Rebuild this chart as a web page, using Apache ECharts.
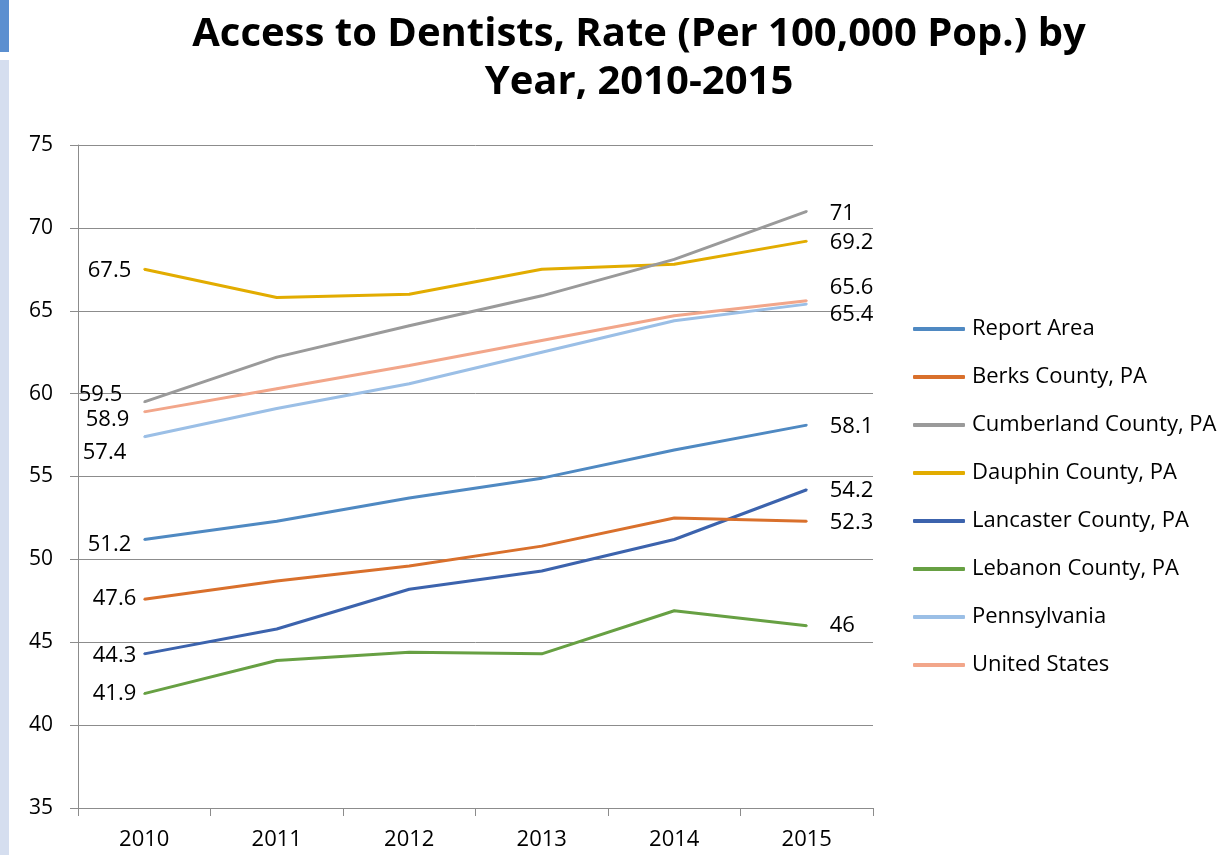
<!DOCTYPE html>
<html>
<head>
<meta charset="utf-8">
<script src="https://cdn.jsdelivr.net/npm/echarts@6/dist/echarts.min.js"></script>
<style>html,body{margin:0;padding:0;background:#fff}#c{width:1229px;height:855px}</style>
</head>
<body>
<div id="c"></div>
<script>
const years = ['2010','2011','2012','2013','2014','2015'];
const seriesNames = ['Report Area','Berks County, PA','Cumberland County, PA','Dauphin County, PA','Lancaster County, PA','Lebanon County, PA','Pennsylvania','United States'];
const reportArea = [51.2, 52.3, 53.7, 54.9, 56.6, 58.1];
const berks = [47.6, 48.7, 49.6, 50.8, 52.5, 52.3];
const cumberland = [59.5, 62.2, 64.1, 65.9, 68.1, 71];
const dauphin = [67.5, 65.8, 66.0, 67.5, 67.8, 69.2];
const lancaster = [44.3, 45.8, 48.2, 49.3, 51.2, 54.2];
const lebanon = [41.9, 43.9, 44.4, 44.3, 46.9, 46];
const pennsylvania = [57.4, 59.1, 60.6, 62.5, 64.4, 65.4];
const unitedStates = [58.9, 60.3, 61.7, 63.2, 64.7, 65.6];
const yTicks = [35, 40, 45, 50, 55, 60, 65, 70, 75];

const colors = ['#4F89C2','#D9702C','#9A9A9A','#E2AC00','#3C63AD','#67A043','#9BBFE6','#F2A68A'];
const allData = [reportArea, berks, cumberland, dauphin, lancaster, lebanon, pennsylvania, unitedStates];
// label nudges (first point, last point)
const firstOffset = [[1, 5], [6, 0], [-8, -7], [1, 1], [6, 2], [6, 0], [-4, 16], [-1, 8]];
const lastOffset = [2, 1, 2, 2, 1, 0, 11, -13];

const labelFont = {fontFamily:'Open Sans', fontSize:22, color:'#000'};

const series = allData.map((d, i) => ({
  name: seriesNames[i],
  type: 'line',
  data: d.map((v, j) => {
    if (j === 0) return {value: v, label: {show: true, position: 'left', distance: 13, offset: firstOffset[i], ...labelFont}};
    if (j === d.length - 1) return {value: v, label: {show: true, position: 'right', distance: 23, offset: [-1, lastOffset[i]], ...labelFont}};
    return v;
  }),
  symbol: 'circle',
  symbolSize: 2,
  showSymbol: true,
  lineStyle: {width: 3, color: colors[i]},
  itemStyle: {color: colors[i]},
  label: {show: false},
  emphasis: {disabled: true},
  z: 10 - i
}));

const chart = echarts.init(document.getElementById('c'), null, {renderer: 'canvas'});
chart.setOption({
  animation: false,
  backgroundColor: '#fff',
  title: {
    text: 'Access to Dentists, Rate (Per 100,000 Pop.) by\nYear, 2010-2015',
    left: 634, textAlign: 'center', top: 6,
    textStyle: {fontFamily: 'Open Sans', fontWeight: 'bold', fontSize: 40, lineHeight: 48, color: '#000'}
  },
  graphic: [
    {type:'rect', left:0, top:0, shape:{width:9, height:52}, style:{fill:'#5B8FD0'}},
    {type:'rect', left:0, top:60, shape:{width:9, height:795}, style:{fill:'#D5DEEF'}}
  ],
  legend: {
    orient: 'vertical', left: 908, top: 313,
    itemWidth: 52, itemHeight: 4, itemGap: 26,
    icon: 'roundRect',
    textStyle: {fontFamily: 'Open Sans', fontSize: 22, color: '#000', padding: [0,0,0,2]},
    data: seriesNames
  },
  grid: {left: 78, right: 356, top: 145, bottom: 47, containLabel: false},
  xAxis: {
    type: 'category', data: years, boundaryGap: true,
    axisLine: {lineStyle: {color: '#8C8C8C', width: 1}},
    axisTick: {show: true, length: 8, lineStyle: {color: '#8C8C8C'}},
    axisLabel: {margin: 21, fontFamily: 'Open Sans', fontSize: 22, color: '#000'},
    splitLine: {show: false}
  },
  yAxis: {
    type: 'value', min: 35, max: 75, interval: 5,
    axisLine: {show: true, lineStyle: {color: '#8C8C8C', width: 1}},
    axisTick: {show: true, length: 8, lineStyle: {color: '#8C8C8C'}},
    axisLabel: {margin: 25, fontFamily: 'Open Sans', fontSize: 21, color: '#000',
      formatter: v => yTicks.includes(v) ? String(v) : ''},
    splitLine: {show: true, lineStyle: {color: '#8C8C8C', width: 1}}
  },
  series: series
});
</script>
</body>
</html>
